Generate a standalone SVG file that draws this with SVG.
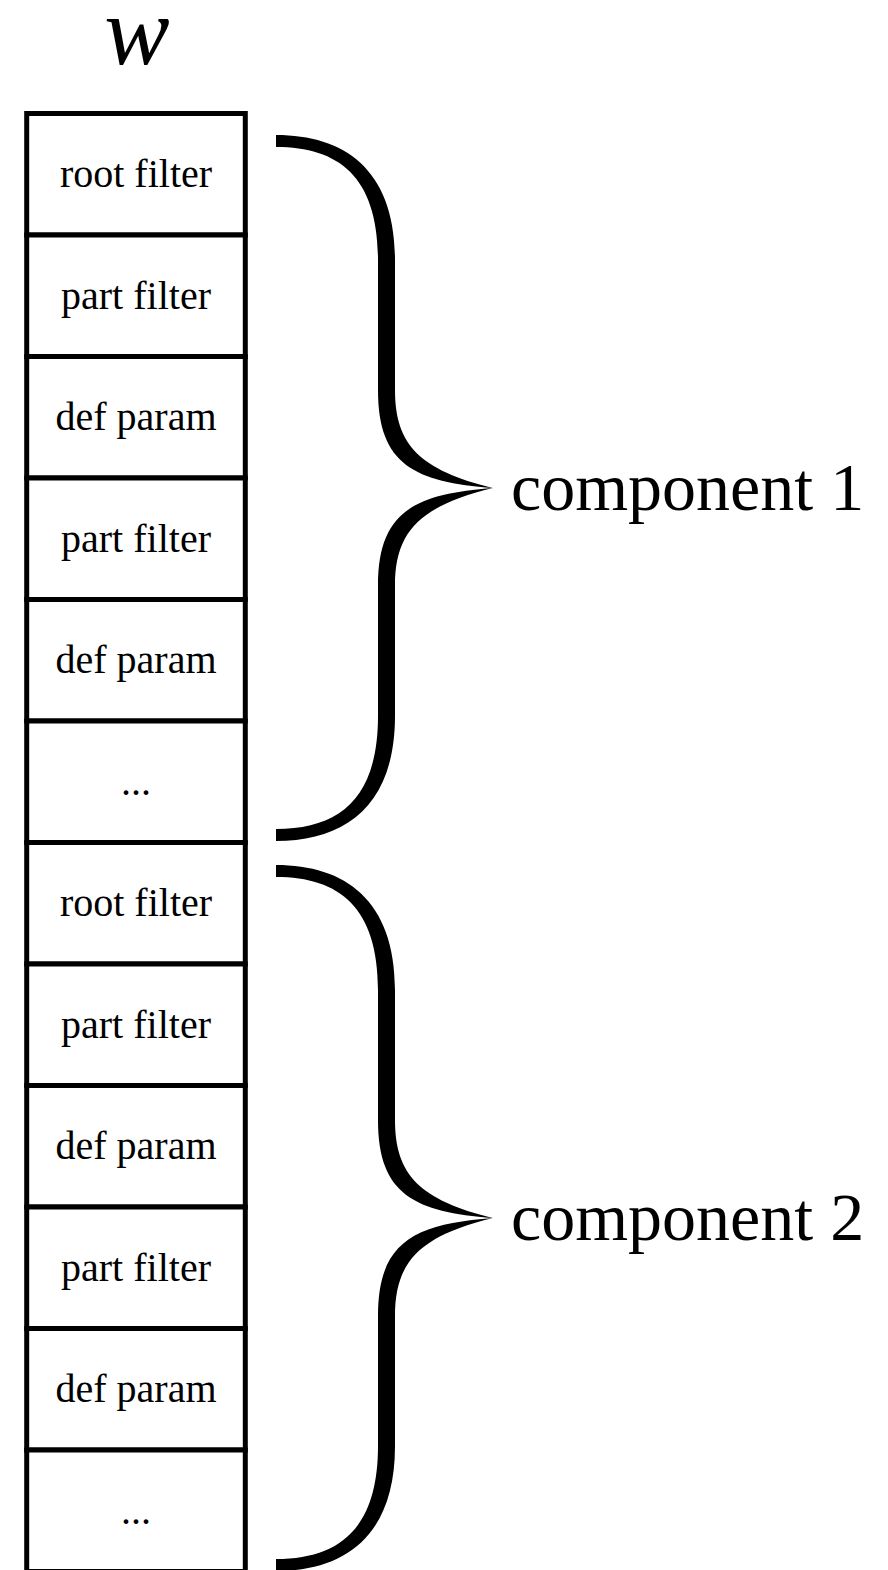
<svg xmlns="http://www.w3.org/2000/svg" xmlns:xlink="http://www.w3.org/1999/xlink" width="888" height="1570" viewBox="0 0 888 1570">
  <style>
    .cell { fill: #fff; stroke: #000; stroke-width: 5; }
    .lbl { font-family: "Liberation Serif", "Times New Roman", serif; font-size: 40px; fill: #000; text-anchor: middle; }
    .big { font-family: "Liberation Serif", "Times New Roman", serif; font-size: 68px; fill: #000; }
    .var { font-family: "Liberation Serif", "Times New Roman", serif; font-style: italic; font-size: 98px; fill: #000; text-anchor: middle; }
    .brace { fill: #000; stroke: none; }
  </style>
  <defs>
    <!-- curly brace, top end at y=0, tip at y=347, bottom end at y=694 -->
    <path id="brace" class="brace" d="M276,-6 C345,-6 395,29 395,119 L395,249 C395,304 420,329 493,347 C420,365 395,390 395,445 L395,575 C395,665 345,700 276,700 L276,688 C340,688 378,657 378,575 L378,445 C378,370 415,353 493,347 C415,341 378,324 378,249 L378,119 C378,37 340,6 276,6 Z"/>
  </defs>
  <rect width="888" height="1570" fill="#fff"/>

  <!-- vector label -->
  <text class="var" x="137" y="64">w</text>

  <!-- stacked cells of the parameter vector -->
  <g id="cell-1"><rect class="cell" x="26.7" y="113.5" width="218.6" height="121.5"/><text class="lbl" x="136" y="187">root filter</text></g>
  <g id="cell-2"><rect class="cell" x="26.7" y="235" width="218.6" height="121.5"/><text class="lbl" x="136" y="308.5">part filter</text></g>
  <g id="cell-3"><rect class="cell" x="26.7" y="356.5" width="218.6" height="121.5"/><text class="lbl" x="136" y="430">def param</text></g>
  <g id="cell-4"><rect class="cell" x="26.7" y="478" width="218.6" height="121.5"/><text class="lbl" x="136" y="551.5">part filter</text></g>
  <g id="cell-5"><rect class="cell" x="26.7" y="599.5" width="218.6" height="121.5"/><text class="lbl" x="136" y="673">def param</text></g>
  <g id="cell-6"><rect class="cell" x="26.7" y="721" width="218.6" height="121.5"/><text class="lbl" x="136" y="794.5">...</text></g>
  <g id="cell-7"><rect class="cell" x="26.7" y="842.5" width="218.6" height="121.5"/><text class="lbl" x="136" y="916">root filter</text></g>
  <g id="cell-8"><rect class="cell" x="26.7" y="964" width="218.6" height="121.5"/><text class="lbl" x="136" y="1037.5">part filter</text></g>
  <g id="cell-9"><rect class="cell" x="26.7" y="1085.5" width="218.6" height="121.5"/><text class="lbl" x="136" y="1159">def param</text></g>
  <g id="cell-10"><rect class="cell" x="26.7" y="1207" width="218.6" height="121.5"/><text class="lbl" x="136" y="1280.5">part filter</text></g>
  <g id="cell-11"><rect class="cell" x="26.7" y="1328.5" width="218.6" height="121.5"/><text class="lbl" x="136" y="1402">def param</text></g>
  <g id="cell-12"><rect class="cell" x="26.7" y="1450" width="218.6" height="121.5"/><text class="lbl" x="136" y="1523.5">...</text></g>

  <!-- braces grouping the cells into components -->
  <g id="connectors">
    <use xlink:href="#brace" href="#brace" transform="translate(0,141)"/>
    <use xlink:href="#brace" href="#brace" transform="translate(0,871)"/>
  </g>

  <g id="component-1"><text class="big" x="511" y="510">component 1</text></g>
  <g id="component-2"><text class="big" x="511" y="1240">component 2</text></g>
</svg>
